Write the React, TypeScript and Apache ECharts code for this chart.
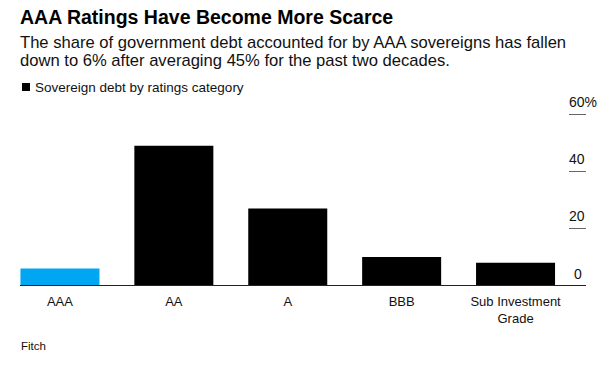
import React, { useEffect, useRef } from "react";
import * as echarts from "echarts";

const categories = ["AAA", "AA", "A", "BBB", "Sub Investment\nGrade"];
const shares = [6, 49, 27, 10, 8];
const highlightIndex = 0;
const yTicks = [0, 20, 40, 60];

const titleText = "AAA Ratings Have Become More Scarce";
const subtitleText =
  "The share of government debt accounted for by AAA sovereigns has fallen\ndown to 6% after averaging 45% for the past two decades.";
const seriesName = "Sovereign debt by ratings category";
const sourceText = "Fitch";

const FONT = "'Liberation Sans', Arial, sans-serif";

export default function App() {
  const ref = useRef<HTMLDivElement>(null);

  useEffect(() => {
    if (!ref.current) return;
    const chart = echarts.init(ref.current, undefined, { renderer: "svg" });
    const option: any = {
      animation: false,
      backgroundColor: "#ffffff",
      textStyle: { fontFamily: FONT },
      title: [
        {
          text: titleText,
          left: 20,
          top: 7,
          padding: 0,
          textStyle: { fontFamily: FONT, fontSize: 19.5, fontWeight: "bold", color: "#000" },
        },
        {
          text: subtitleText,
          left: 20,
          top: 33,
          padding: 0,
          textStyle: { fontFamily: FONT, fontSize: 16.6, fontWeight: "normal", color: "#111", lineHeight: 18.5 },
        },
        {
          text: sourceText,
          left: 21,
          top: 340,
          padding: 0,
          textStyle: { fontFamily: FONT, fontSize: 11.5, fontWeight: "normal", color: "#111" },
        },
      ],
      legend: {
        show: true,
        left: 22,
        top: 80,
        padding: 0,
        itemWidth: 8,
        itemHeight: 8,
        icon: "rect",
        textStyle: { fontFamily: FONT, fontSize: 13.5, color: "#111" },
        data: [seriesName],
      },
      grid: { left: 3, right: 39.5, top: 114.3, bottom: 81.5, containLabel: false },
      xAxis: {
        type: "category",
        data: categories,
        axisLine: { show: false },
        axisTick: { show: false },
        axisLabel: { fontFamily: FONT, fontSize: 13, color: "#111", margin: 7, lineHeight: 17, interval: 0 },
      },
      yAxis: {
        type: "value",
        position: "right",
        offset: -3.5,
        min: 0,
        max: 60,
        interval: 20,
        splitLine: { show: false },
        axisLine: { show: false },
        axisTick: { show: true, inside: false, length: 17, lineStyle: { color: "#666", width: 1 } },
        axisLabel: {
          fontFamily: FONT,
          fontSize: 14,
          color: "#111",
          align: "left",
          verticalAlign: "bottom",
          margin: 0,
          padding: [0, 0, 5, 0],
          formatter: (v: number) => (v === 0 ? "{z|0}" : v === 60 ? "60%" : String(v)),
          rich: { z: { fontFamily: FONT, fontSize: 14, color: "#111", padding: [0, 0, 0, 5] } },
        },
      },
      series: [
        {
          name: seriesName,
          type: "bar",
          barWidth: 79,
          itemStyle: { color: "#000" },
          data: shares.map((v, i) =>
            i === highlightIndex ? { value: v, itemStyle: { color: "#00a6f2" } } : v
          ),
        },
      ],
    };
    chart.setOption(option);
    const y0 = chart.convertToPixel({ yAxisIndex: 0 }, yTicks[0]) as number;
    chart.setOption({
      graphic: [
        {
          type: "line",
          shape: { x1: 20, y1: y0, x2: 586, y2: y0 },
          style: { stroke: "#222", lineWidth: 1 },
          z: 10,
        },
      ],
    });
    return () => chart.dispose();
  }, []);

  return (
    <div
      ref={ref}
      style={{ position: "absolute", left: 0, top: 0, width: 612, height: 367 }}
    />
  );
}
